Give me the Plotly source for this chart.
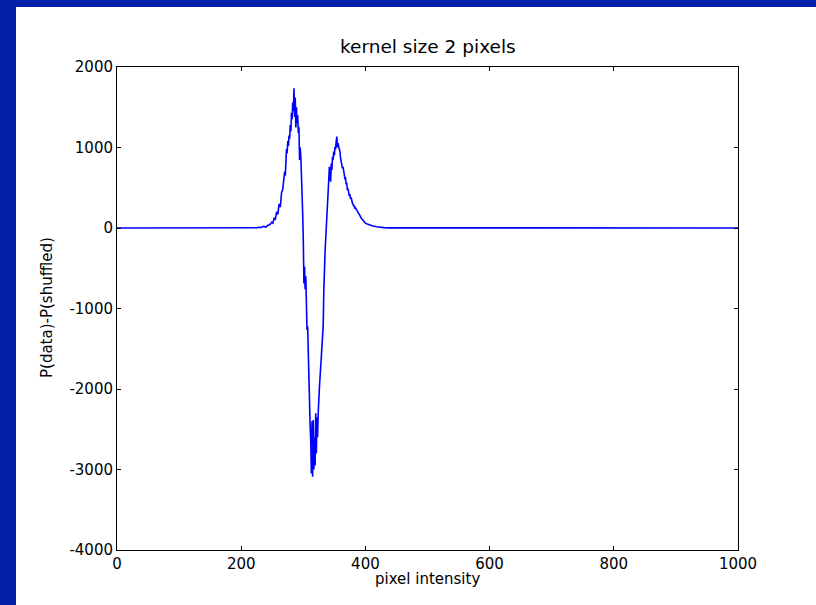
import plotly.graph_objects as go

# Data (pixel intensity vs P(data)-P(shuffled))
x_vals = [0, 100, 200, 210, 215, 220, 225, 228, 232, 236, 240, 243, 246, 249, 251, 253, 255,
          257, 259, 261, 263, 265, 267, 268, 270, 271, 272, 273, 274, 275, 276, 277, 278,
          279, 280, 281, 282, 283, 284, 285, 286, 287, 288, 289, 290, 291, 292, 293, 294,
          295, 296, 297, 298, 299, 300, 301, 302, 303, 304, 305, 306, 307, 308, 309, 310,
          311, 312, 313, 314, 315, 316, 317, 318, 319, 320, 321, 322, 323, 324, 325, 326,
          327, 328, 329, 330, 331, 332, 333, 334, 335, 336, 337, 338, 339, 340, 341, 342,
          343, 344, 345, 346, 347, 348, 349, 350, 351, 352, 353, 354, 355, 356, 357, 358,
          359, 360, 361, 362, 363, 364, 365, 366, 367, 368, 369, 370, 371, 372, 373, 374,
          375, 376, 377, 378, 379, 380, 381, 382, 383, 384, 386, 388, 390, 392, 394, 396,
          398, 400, 403, 407, 412, 418, 424, 430, 440, 600, 800, 1000]
y_vals = [0, 0, 0, 2, 0, 5, 3, 10, 6, 20, 12, 35, 40, 70, 60, 120, 110, 200, 170, 300, 260,
          440, 480, 560, 700, 650, 850, 980, 930, 1080, 1020, 1150, 1110, 1280, 1200, 1430,
          1350, 1560, 1450, 1735, 1380, 1620, 1250, 1500, 1300, 1400, 1180, 1250, 845, 1000,
          885, 700, 350, 185, -150, -690, -480, -760, -600, -1000, -1267, -1220, -1600, -1970,
          -2150, -2450, -2650, -3050, -2400, -3090, -2385, -3000, -2600, -2950, -2300, -2800,
          -2350, -2600, -2300, -2000, -1970, -1850, -1700, -1555, -1450, -1300, -1225, -800,
          -435, -300, -150, -25, 150, 300, 350, 600, 760, 640, 575, 800, 720, 885, 850, 950,
          900, 1010, 980, 1080, 1135, 1000, 1055, 1010, 980, 950, 870, 800, 780, 740, 760, 690,
          650, 615, 620, 540, 560, 470, 490, 450, 400, 420, 360, 380, 330, 310, 300, 270, 280,
          240, 250, 220, 200, 160, 140, 115, 100, 80, 60, 50, 35, 25, 15, 8, 5, 2, 0, 0, 0, 0]

x_ticks = [0, 200, 400, 600, 800, 1000]
y_ticks = [-4000, -3000, -2000, -1000, 0, 1000, 2000]

W, H = 816, 605
L, R, T, B = 117, 738, 67, 550
pw, ph = R - L, B - T

def px(xp):
    return (xp - L) / pw

def py(yp):
    return (B - yp) / ph

font = "DejaVu Sans"

fig = go.Figure()
fig.add_trace(go.Scatter(x=x_vals, y=y_vals, mode="lines",
                         line=dict(color="#0000ff", width=1.6), showlegend=False))

axis_common = dict(showgrid=False, zeroline=False, showline=True, linecolor="black",
                   linewidth=1, mirror="ticks", ticks="inside", ticklen=4,
                   tickcolor="black", tickwidth=1,
                   tickfont=dict(family=font, size=15, color="black"))

fig.update_xaxes(range=[0, 1000], tickvals=x_ticks,
                 ticktext=[str(v) for v in x_ticks], **axis_common)
fig.update_yaxes(range=[-4000, 2000], tickvals=y_ticks,
                 ticktext=[str(v) for v in y_ticks], **axis_common)

fig.update_layout(
    width=W, height=H,
    margin=dict(l=L, r=W - R, t=T, b=H - B, pad=0),
    paper_bgcolor="#0520a8",
    plot_bgcolor="white",
    shapes=[dict(type="rect", xref="paper", yref="paper",
                 x0=px(16), x1=px(W + 5), y0=py(H + 5), y1=py(7),
                 fillcolor="white", line=dict(width=0), layer="below")],
    annotations=[
        dict(text="kernel size 2 pixels", xref="paper", yref="paper",
             x=0.5, y=py(46), xanchor="center", yanchor="middle", showarrow=False,
             font=dict(family=font, size=18.5, color="black")),
        dict(text="pixel intensity", xref="paper", yref="paper",
             x=0.5, y=py(579), xanchor="center", yanchor="middle", showarrow=False,
             font=dict(family=font, size=15, color="black")),
        dict(text="P(data)-P(shuffled)", xref="paper", yref="paper",
             x=px(47), y=py(308), xanchor="center", yanchor="middle", showarrow=False,
             textangle=-90, font=dict(family=font, size=15, color="black")),
    ],
)

fig.write_html("out.html")
